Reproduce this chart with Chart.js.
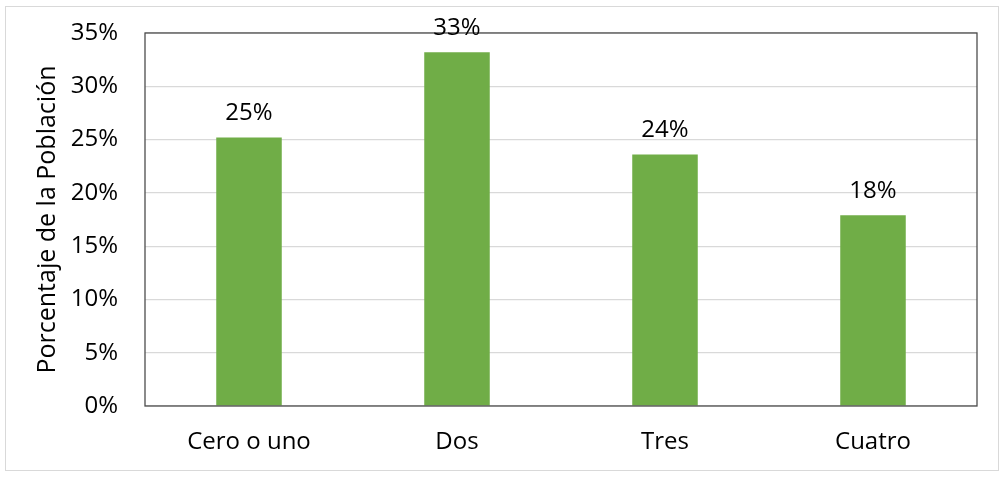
<!DOCTYPE html>
<html>
<head>
  <title>Porcentaje de la Población</title>
  <script type="text/javascript" src="https://cdn.jsdelivr.net/npm/chart.js"></script>
  <style>
    html, body { margin: 0; padding: 0; background: #ffffff; }
    #frame {
      position: absolute; left: 5px; top: 6px; width: 992px; height: 463px;
      border: 1px solid #d9d9d9;
    }
    #chart-container { position: absolute; left: 0; top: 0; width: 1007px; height: 478px; }
  </style>
</head>
<body>
  <div id="frame"></div>
  <div id="chart-container">
    <canvas id="chart"></canvas>
  </div>

  <script type="text/javascript">
    // data
    const categories = ["Cero o uno", "Dos", "Tres", "Cuatro"];
    const percentages = [25.2, 33.2, 23.6, 17.9];
    const y_ticks = [0, 5, 10, 15, 20, 25, 30, 35];
    const y_title = "Porcentaje de la Población";

    const FONT = "'Open Sans', 'Noto Sans', sans-serif";

    // value labels above each bar, plus the dark box round the plot area
    const extras = {
      id: "extras",
      afterDatasetsDraw(chart) {
        const ctx = chart.ctx;
        const area = chart.chartArea;
        ctx.save();
        ctx.strokeStyle = "#4d4d4d";
        ctx.lineWidth = 1.3;
        ctx.strokeRect(area.left, area.top, area.right - area.left, area.bottom - area.top);

        ctx.fillStyle = "#000000";
        ctx.font = "24px " + FONT;
        ctx.textAlign = "center";
        ctx.textBaseline = "middle";
        const meta = chart.getDatasetMeta(0);
        meta.data.forEach(function(bar, i) {
          ctx.fillText(Math.round(percentages[i]) + "%", bar.x, bar.y - 24);
        });
        ctx.restore();
      }
    };

    window.onload = function() {
      const ctx = document.getElementById("chart");
      new Chart(ctx, {
        type: "bar",
        data: {
          labels: categories,
          datasets: [{
            data: percentages,
            backgroundColor: "#70ad47",
            borderWidth: 0,
            barPercentage: 0.63,
            categoryPercentage: 0.5
          }]
        },
        options: {
          responsive: true,
          maintainAspectRatio: false,
          animation: false,
          layout: { padding: { top: 33, right: 30, left: 0, bottom: 0 } },
          plugins: {
            legend: { display: false },
            tooltip: { enabled: false }
          },
          scales: {
            x: {
              grid: { display: false, drawTicks: false },
              border: { display: false },
              ticks: {
                color: "#000000",
                font: { family: FONT, size: 24 },
                padding: 22
              },
              afterFit: function(scale) {
                scale.height = 72;
                scale.paddingLeft = 0;
                scale.paddingRight = 0;
              }
            },
            y: {
              min: 0,
              max: 35,
              afterBuildTicks: function(scale) {
                scale.ticks = y_ticks.map(v => ({ value: v }));
              },
              grid: { color: "#d9d9d9", lineWidth: 1.2, drawTicks: false },
              border: { display: false },
              ticks: {
                color: "#000000",
                font: { family: FONT, size: 24 },
                padding: 27,
                callback: function(v) { return v + "%"; }
              },
              title: {
                display: true,
                text: y_title,
                color: "#000000",
                font: { family: FONT, size: 25 },
                padding: { top: 33, bottom: 0 }
              },
              afterFit: function(scale) {
                scale.width = 145;
                scale.paddingTop = 0;
                scale.paddingBottom = 0;
              }
            }
          }
        },
        plugins: [extras]
      });
    };
  </script>
</body>
</html>
